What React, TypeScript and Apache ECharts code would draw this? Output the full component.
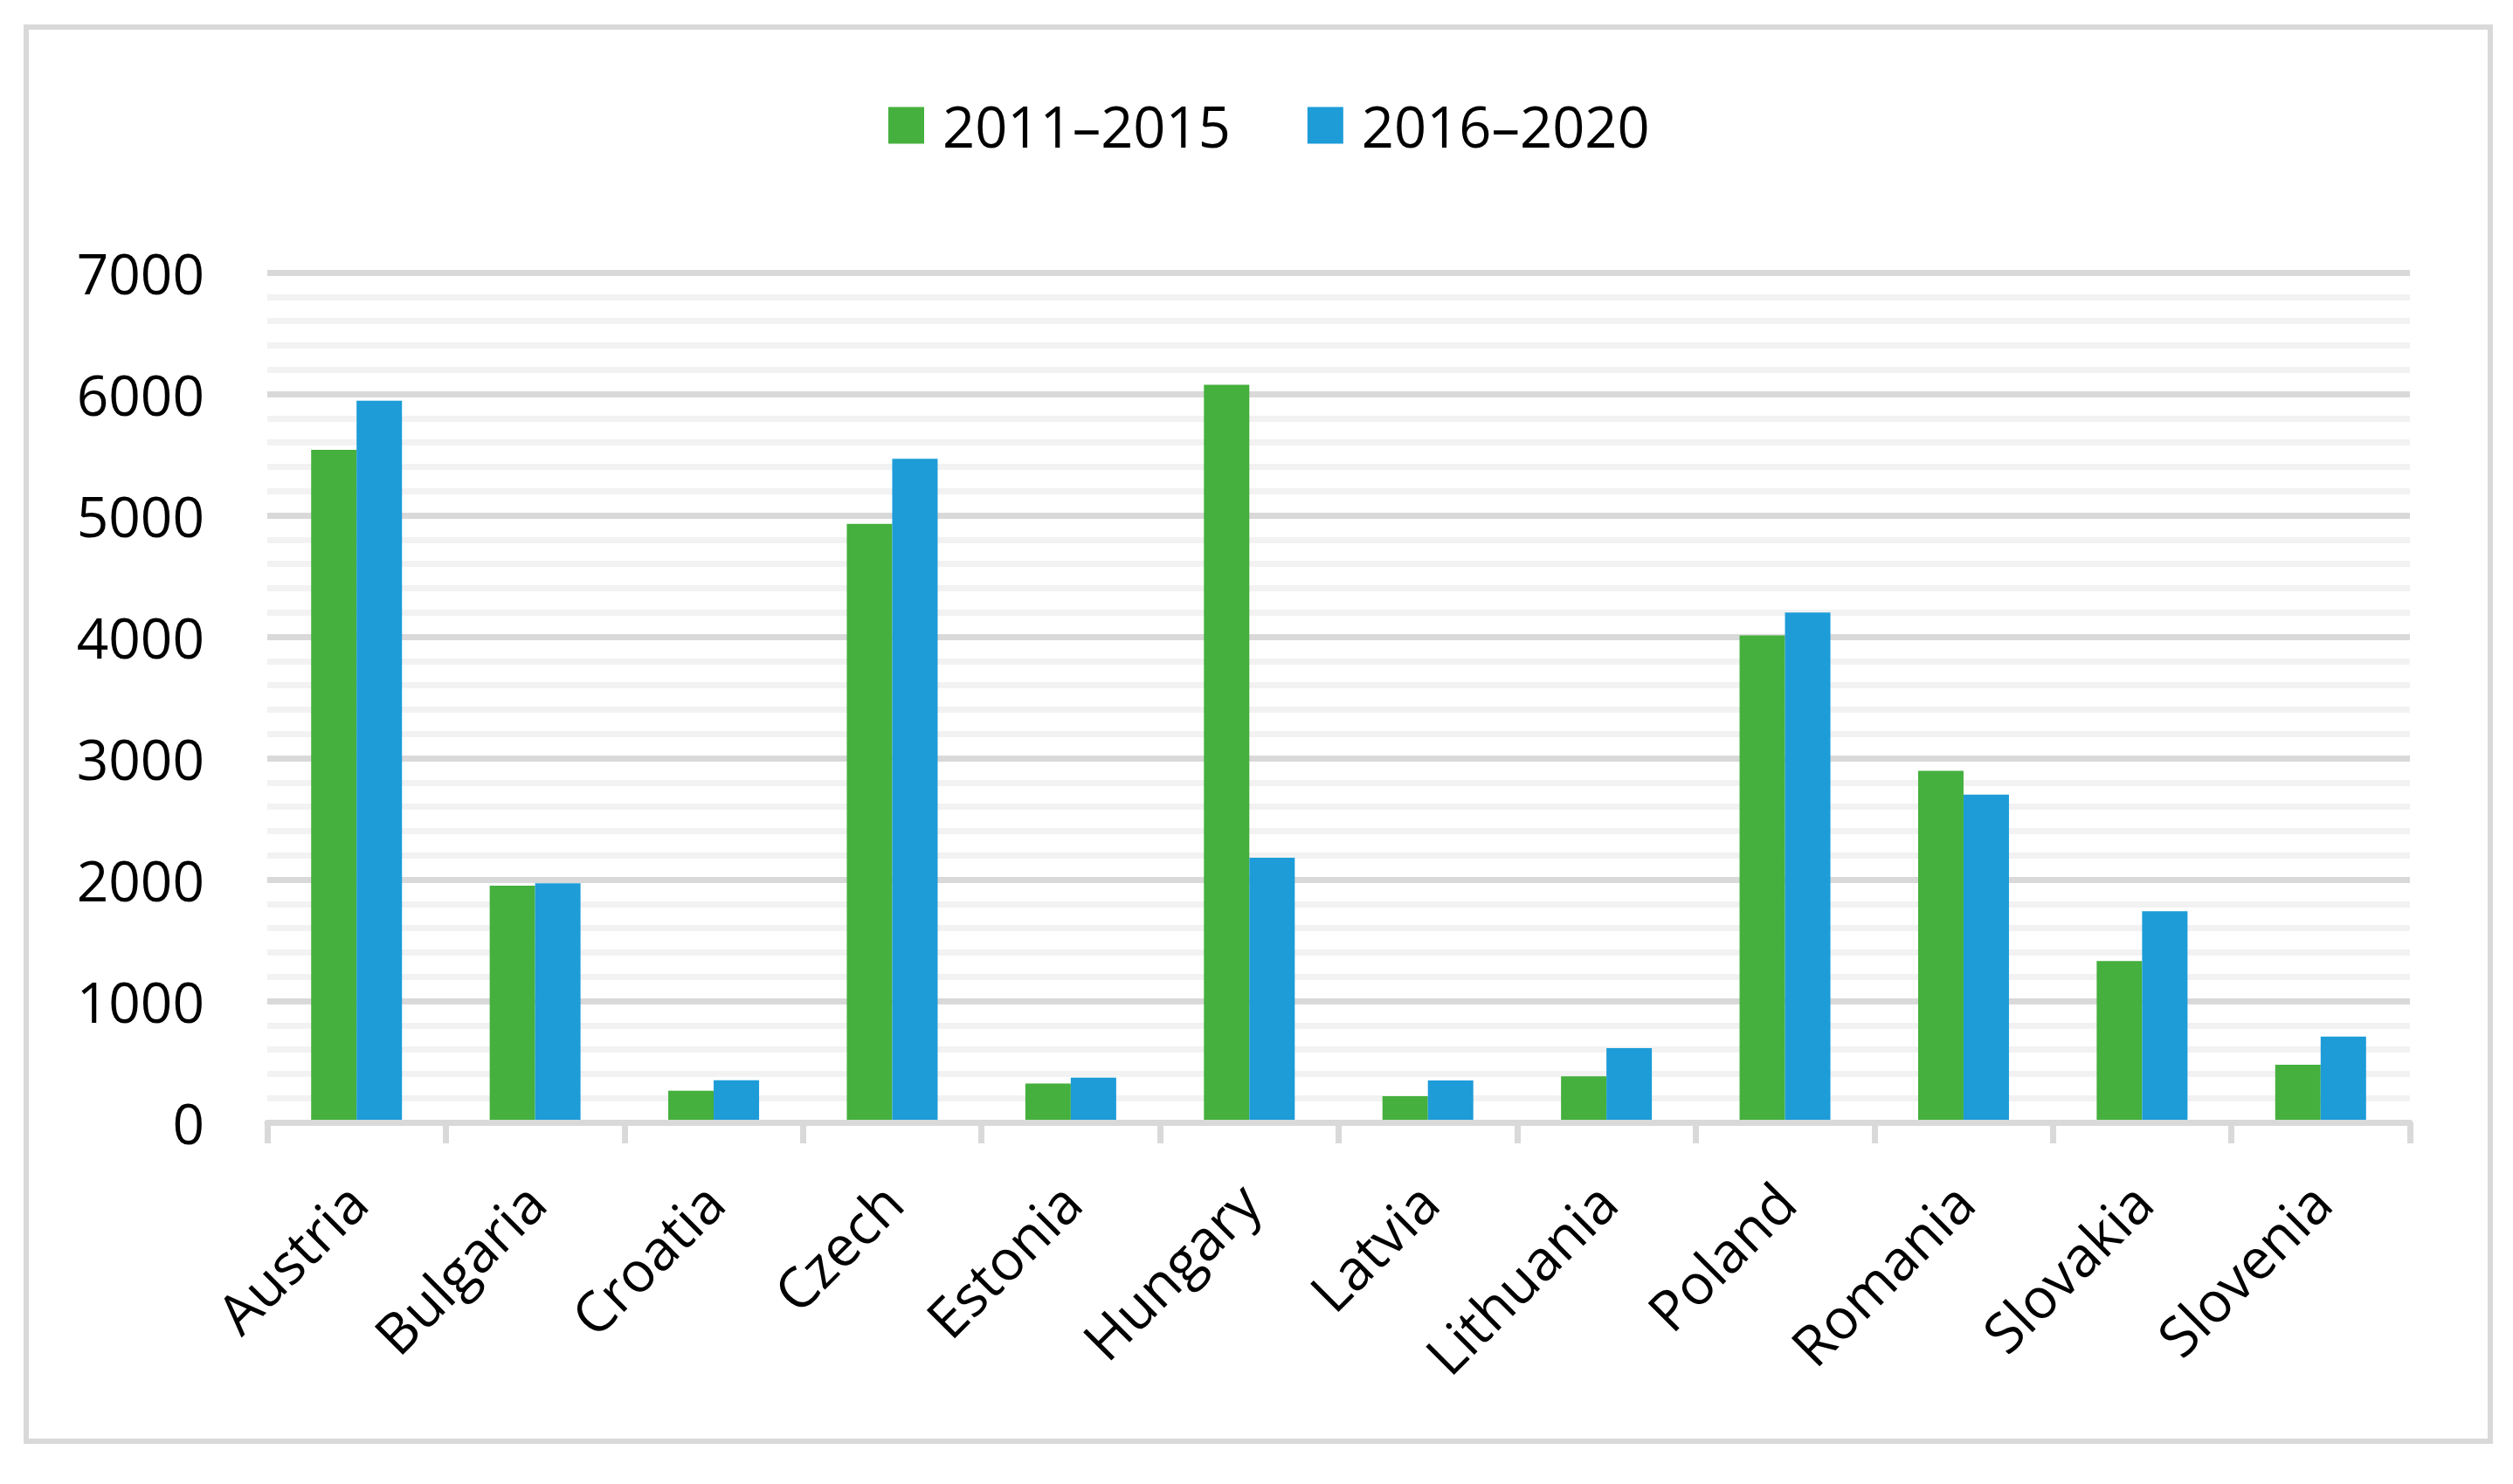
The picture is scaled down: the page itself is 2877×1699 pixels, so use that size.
import React, { useEffect, useRef } from "react";
import * as echarts from "echarts";

const categories = ["Austria", "Bulgaria", "Croatia", "Czech", "Estonia", "Hungary", "Latvia", "Lithuania", "Poland", "Romania", "Slovakia", "Slovenia"];
const seriesNames = ["2011\u20132015", "2016\u20132020"];
const values2011_2015 = [5540, 1950, 260, 4930, 320, 6075, 215, 380, 4010, 2895, 1330, 475];
const values2016_2020 = [5945, 1970, 348, 5465, 368, 2180, 345, 612, 4200, 2700, 1740, 707];
const yTicks = { min: 0, max: 7000, interval: 1000 };

const FONT = "'Open Sans', 'DejaVu Sans', sans-serif";

export default function App() {
  const ref = useRef<HTMLDivElement>(null);
  useEffect(() => {
    if (!ref.current) return;
    const chart = echarts.init(ref.current, null, { renderer: "svg" });
    chart.setOption({
      animation: false,
      backgroundColor: "#ffffff",
      graphic: [
        {
          type: "rect",
          shape: { x: 30, y: 31, width: 2821, height: 1619 },
          style: { fill: "none", stroke: "#d9d9d9", lineWidth: 6 },
          silent: true,
        },
      ],
      legend: {
        left: 1012,
        top: 106,
        itemWidth: 41,
        itemHeight: 42,
        itemGap: 88,
        icon: "rect",
        textStyle: { fontFamily: FONT, fontSize: 65, color: "#000", lineHeight: 65, padding: [0, 0, 0, 16] },
        data: seriesNames,
      },
      grid: { left: 306, right: 118, top: 312, bottom: 1699 - 1285, containLabel: false },
      xAxis: {
        type: "category",
        data: categories,
        z: 3,
        axisLine: { show: true, lineStyle: { color: "#d9d9d9", width: 7 } },
        axisTick: { show: true, length: 24, lineStyle: { color: "#d9d9d9", width: 7 } },
        axisLabel: { interval: 0, rotate: 45, margin: 80, fontFamily: FONT, fontSize: 64, color: "#000" },
        splitLine: { show: false },
      },
      yAxis: {
        type: "value",
        min: yTicks.min,
        max: yTicks.max,
        interval: yTicks.interval,
        axisLine: { show: false },
        axisTick: { show: false },
        axisLabel: { margin: 72, fontFamily: FONT, fontSize: 64, color: "#000", formatter: (v: number) => String(v) },
        splitLine: { show: true, lineStyle: { color: "#d9d9d9", width: 7 } },
        minorTick: { show: false, splitNumber: 5 },
        minorSplitLine: { show: true, lineStyle: { color: "#f2f2f2", width: 7 } },
      },
      series: [
        { name: seriesNames[0], type: "bar", data: values2011_2015, barWidth: 52, barGap: "0%", itemStyle: { color: "#45b03d" } },
        { name: seriesNames[1], type: "bar", data: values2016_2020, barWidth: 52, barGap: "0%", itemStyle: { color: "#1d9cd8" } },
      ],
    });
    return () => chart.dispose();
  }, []);
  return (
    <div style={{ position: "absolute", left: 0, top: 0, width: 2877, height: 1699, background: "#fff" }}>
      <div ref={ref} style={{ width: 2877, height: 1699 }} />
    </div>
  );
}
